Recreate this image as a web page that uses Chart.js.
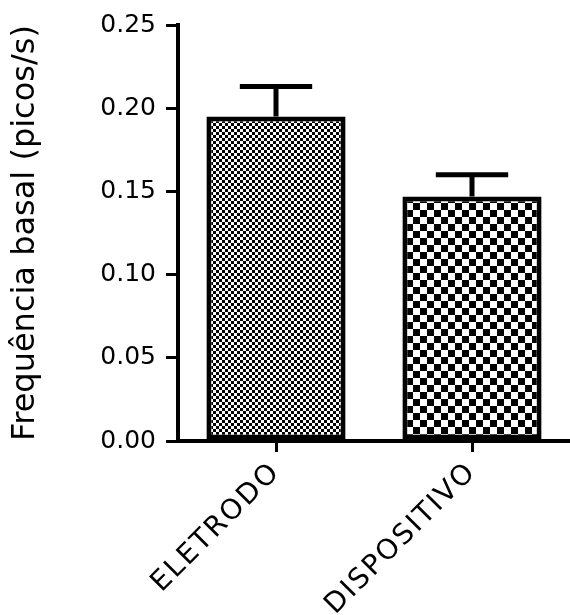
<!DOCTYPE html>
<html>
<head>
<meta charset="utf-8">
<script src="https://cdn.jsdelivr.net/npm/chart.js@4"></script>
<style>
  html, body { margin: 0; padding: 0; background: #fff; }
  #wrap { width: 570px; height: 615px; }
</style>
</head>
<body>
<div id="wrap"><canvas id="chart" width="570" height="615"></canvas></div>
<script>
// basal firing frequency, mean + SEM per group
const groups = ['ELETRODO', 'DISPOSITIVO'];
const means = [0.195, 0.147];
const sems = [0.018, 0.013];
const yTicks = [0, 0.05, 0.10, 0.15, 0.20, 0.25];
const yTitle = 'Frequência basal (picos/s)';

const FONT = '"DejaVu Sans", Verdana, sans-serif';

// black/white checkerboard fill, cell = square size in px
function checker(cell) {
  const c = document.createElement('canvas');
  c.width = c.height = cell * 2;
  const g = c.getContext('2d');
  g.fillStyle = '#fff';
  g.fillRect(0, 0, cell * 2, cell * 2);
  g.fillStyle = '#000';
  g.fillRect(0, 0, cell, cell);
  g.fillRect(cell, cell, cell, cell);
  return g.createPattern(c, 'repeat');
}

// upper half of the SEM bars with a flat cap
const errorBars = {
  id: 'errorBars',
  afterDatasetsDraw(chart) {
    const { ctx } = chart;
    const y = chart.scales.y;
    const meta = chart.getDatasetMeta(0);
    ctx.save();
    ctx.strokeStyle = '#000';
    ctx.lineWidth = 5;
    meta.data.forEach((bar, i) => {
      const top = y.getPixelForValue(means[i] + sems[i]);
      const half = bar.width * 0.26;
      ctx.beginPath();
      ctx.moveTo(bar.x, bar.y);
      ctx.lineTo(bar.x, top);
      ctx.moveTo(bar.x - half, top);
      ctx.lineTo(bar.x + half, top);
      ctx.stroke();
    });
    ctx.restore();
  },
};

// spread out the slanted group names a little
const spacedLabels = {
  id: 'spacedLabels',
  afterLayout(chart) {
    const sx = chart.scales.x;
    if (sx._spaced) return;
    const draw = sx.drawLabels.bind(sx);
    sx.drawLabels = (area) => {
      chart.ctx.save();
      chart.ctx.letterSpacing = '2px';
      draw(area);
      chart.ctx.restore();
    };
    sx._spaced = true;
  },
};

new Chart(document.getElementById('chart'), {
  type: 'bar',
  data: {
    labels: groups,
    datasets: [{
      data: means,
      backgroundColor: [checker(3), checker(7)],
      borderColor: '#000',
      borderWidth: 5,
      borderSkipped: false,
      barPercentage: 0.71,
      categoryPercentage: 1,
    }],
  },
  options: {
    responsive: false,
    animation: false,
    devicePixelRatio: 1,
    layout: { padding: { top: 25, right: 0, left: 0, bottom: 0 } },
    plugins: { legend: { display: false }, tooltip: { enabled: false } },
    scales: {
      x: {
        grid: { drawOnChartArea: false, drawTicks: true, tickLength: 11, lineWidth: 3, color: '#000', offset: false },
        border: { display: true, width: 4, color: '#000' },
        ticks: { color: '#000', font: { family: FONT, size: 28 }, minRotation: 45, maxRotation: 45, padding: 4 },
        afterFit: (s) => { s.height = 174; },
      },
      y: {
        min: 0,
        max: 0.25,
        afterBuildTicks: (s) => { s.ticks = yTicks.map((v) => ({ value: v })); },
        grid: { drawOnChartArea: false, drawTicks: true, tickLength: 12, lineWidth: 3, color: '#000' },
        border: { display: true, width: 4, color: '#000' },
        ticks: { color: '#000', font: { family: FONT, size: 25 }, padding: 10, callback: (v) => v.toFixed(2) },
        title: { display: true, text: yTitle, color: '#000', font: { family: FONT, size: 32 }, padding: { top: 6, bottom: 0 } },
        afterFit: (s) => { s.width = 178; },
      },
    },
  },
  plugins: [errorBars, spacedLabels],
});
</script>
</body>
</html>
